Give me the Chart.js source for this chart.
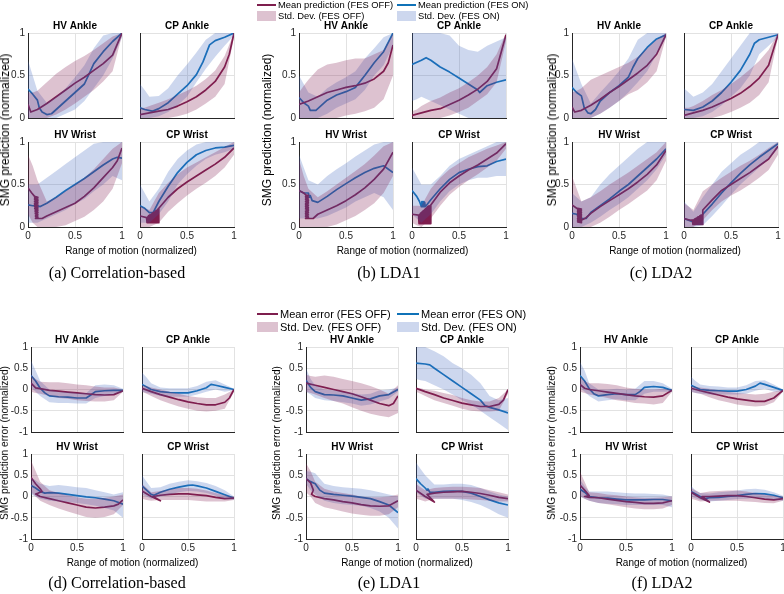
<!DOCTYPE html>
<html>
<head>
<meta charset="utf-8">
<script src="https://cdn.jsdelivr.net/npm/chart.js@4.4.1/dist/chart.umd.min.js"></script>
<style>
  body { margin: 0; background: #fff; width: 784px; height: 594px; position: relative; overflow: hidden;
         font-family: "Liberation Sans", Arial, sans-serif; }
  canvas { position: absolute; }
  .t { position: absolute; white-space: nowrap; color: #000; line-height: 1; }
</style>
</head>
<body>
<script>
// ---- data: x grid for the std bands, tick labels ----
const X = [0, 0.05, 0.1, 0.2, 0.3, 0.4, 0.5, 0.6, 0.7, 0.8, 0.9, 1];
const xTicks = [0, 0.5, 1];
const xTickLabels = ["0", "0.5", "1"];
const predTicks = [0, 0.5, 1];
const predTickLabels = ["0", "0.5", "1"];
const errTicks = [-1, -0.5, 0, 0.5, 1];
const errTickLabels = ["-1", "-0.5", "0", "0.5", "1"];
const panelTitles = ["HV Ankle", "CP Ankle", "HV Wrist", "CP Wrist"];
const captions = ["(a) Correlation-based", "(b) LDA1", "(c) LDA2", "(d) Correlation-based", "(e) LDA1", "(f) LDA2"];

// mean curves are [x, y] points (the wrist curves run back and forth near the start),
// bands are [lo, hi] on X

// (a) Correlation-based, prediction
const a_hva_off = [[0,0.16],[0.03,0.07],[0.1,0.1],[0.2,0.17],[0.3,0.25],[0.4,0.33],[0.5,0.41],[0.6,0.48],[0.7,0.56],[0.8,0.64],[0.9,0.74],[1,1.0]];
const a_hva_on = [[0,0.34],[0.05,0.28],[0.1,0.21],[0.12,0.12],[0.15,0.07],[0.2,0.04],[0.25,0.05],[0.3,0.1],[0.4,0.2],[0.5,0.3],[0.6,0.4],[0.65,0.52],[0.7,0.64],[0.8,0.78],[0.9,0.9],[1,1.0]];
const a_hva_offB = [[0,0.3],[0,0.3],[0,0.32],[0,0.42],[0.04,0.52],[0.1,0.6],[0.17,0.67],[0.25,0.73],[0.33,0.8],[0.43,0.88],[0.55,0.96],[0.97,1]];
const a_hva_onB = [[0,0.68],[0,0.5],[0,0.32],[0,0.18],[0,0.25],[0.05,0.35],[0.1,0.48],[0.2,0.62],[0.35,0.82],[0.5,0.97],[0.7,1],[0.95,1]];

const a_cpa_off = [[0,0.04],[0.1,0.06],[0.2,0.08],[0.3,0.1],[0.4,0.14],[0.5,0.19],[0.6,0.25],[0.7,0.33],[0.8,0.43],[0.9,0.6],[0.95,0.75],[1,1.0]];
const a_cpa_on = [[0,0.12],[0.05,0.1],[0.13,0.08],[0.2,0.11],[0.3,0.18],[0.4,0.28],[0.5,0.38],[0.6,0.51],[0.67,0.66],[0.74,0.86],[0.8,0.91],[0.9,0.95],[1,1.0]];
const a_cpa_offB = [[0,0.12],[0,0.12],[0,0.14],[0,0.18],[0,0.22],[0.02,0.27],[0.05,0.32],[0.1,0.38],[0.17,0.46],[0.25,0.56],[0.4,0.73],[0.95,1]];
const a_cpa_onB = [[0,0.4],[0,0.33],[0,0.25],[0.02,0.26],[0.07,0.35],[0.15,0.5],[0.25,0.63],[0.42,0.77],[0.58,0.92],[0.72,1],[0.85,1],[0.97,1]];

const a_hvw_off = [[0,0.46],[0.04,0.4],[0.07,0.36],[0.105,0.35],[0.07,0.34],[0.105,0.33],[0.07,0.32],[0.105,0.31],[0.07,0.3],[0.105,0.29],[0.07,0.28],[0.105,0.27],[0.07,0.26],[0.105,0.25],[0.07,0.24],[0.105,0.23],[0.072,0.22],[0.105,0.21],[0.074,0.2],[0.105,0.19],[0.076,0.18],[0.105,0.17],[0.078,0.16],[0.105,0.15],[0.08,0.14],[0.105,0.13],[0.08,0.12],[0.105,0.11],[0.08,0.1],[0.1,0.1],[0.15,0.1],[0.2,0.13],[0.3,0.18],[0.4,0.23],[0.5,0.28],[0.6,0.36],[0.7,0.46],[0.8,0.58],[0.9,0.7],[0.95,0.78],[1,0.93]];
const a_hvw_on = [[0,0.26],[0.05,0.25],[0.1,0.25],[0.13,0.24],[0.2,0.28],[0.3,0.35],[0.4,0.43],[0.5,0.5],[0.6,0.57],[0.7,0.65],[0.8,0.73],[0.9,0.8],[0.95,0.82],[1,0.81]];
const a_hvw_offB = [[0.15,0.85],[0.05,0.72],[0,0.55],[0,0.3],[0,0.35],[0.02,0.42],[0.07,0.5],[0.12,0.58],[0.2,0.68],[0.3,0.8],[0.45,0.92],[0.75,1]];
const a_hvw_onB = [[0.05,0.5],[0.05,0.5],[0.05,0.5],[0.1,0.58],[0.15,0.66],[0.2,0.74],[0.27,0.82],[0.33,0.9],[0.42,0.98],[0.5,1],[0.6,1],[0.55,1]];

const a_cpw_off = [[0,0.13],[0.07,0.11],[0.075,0.05],[0.08,0.12],[0.085,0.05],[0.09,0.13],[0.095,0.05],[0.1,0.14],[0.105,0.05],[0.11,0.14],[0.115,0.05],[0.12,0.15],[0.125,0.05],[0.13,0.16],[0.135,0.05],[0.14,0.17],[0.145,0.05],[0.15,0.17],[0.155,0.05],[0.16,0.18],[0.165,0.05],[0.17,0.19],[0.175,0.05],[0.18,0.2],[0.185,0.05],[0.19,0.21],[0.195,0.05],[0.2,0.22],[0.3,0.35],[0.4,0.45],[0.5,0.53],[0.6,0.6],[0.7,0.67],[0.8,0.74],[0.9,0.82],[1,0.93]];
const a_cpw_on = [[0,0.25],[0.05,0.22],[0.1,0.17],[0.14,0.17],[0.2,0.3],[0.3,0.48],[0.4,0.64],[0.5,0.76],[0.6,0.85],[0.7,0.9],[0.8,0.93],[0.9,0.94],[1,0.96]];
const a_cpw_offB = [[0,0.25],[0,0.22],[0,0.2],[0.05,0.4],[0.18,0.52],[0.28,0.62],[0.37,0.7],[0.45,0.76],[0.52,0.82],[0.6,0.88],[0.7,0.94],[0.85,1]];
const a_cpw_onB = [[0.05,0.5],[0.05,0.4],[0.05,0.3],[0.15,0.45],[0.3,0.65],[0.5,0.8],[0.62,0.9],[0.72,0.97],[0.8,1],[0.85,1],[0.88,1],[0.92,1]];

// (b) LDA1, prediction
const b_hva_off = [[0,0.16],[0.1,0.2],[0.2,0.25],[0.3,0.3],[0.4,0.33],[0.5,0.36],[0.6,0.38],[0.7,0.41],[0.8,0.46],[0.9,0.55],[0.95,0.65],[1,0.86]];
const b_hva_on = [[0,0.24],[0.05,0.18],[0.1,0.14],[0.12,0.09],[0.18,0.09],[0.25,0.16],[0.3,0.21],[0.4,0.27],[0.5,0.31],[0.6,0.36],[0.7,0.5],[0.8,0.65],[0.9,0.78],[1,1.0]];
const b_hva_offB = [[0,0.3],[0,0.38],[0,0.45],[0,0.57],[0,0.63],[0,0.65],[0.03,0.68],[0.05,0.7],[0.08,0.7],[0.12,0.75],[0.22,0.8],[0.5,1]];
const b_hva_onB = [[0,0.5],[0,0.4],[0,0.3],[0,0.25],[0.05,0.35],[0.12,0.42],[0.17,0.48],[0.22,0.55],[0.33,0.7],[0.5,0.82],[0.62,0.95],[0.85,1]];

const b_cpa_off = [[0,0.03],[0.1,0.06],[0.2,0.09],[0.3,0.11],[0.4,0.16],[0.5,0.21],[0.6,0.27],[0.7,0.34],[0.8,0.43],[0.9,0.58],[1,0.98]];
const b_cpa_on = [[0,0.63],[0.1,0.68],[0.15,0.71],[0.2,0.68],[0.3,0.6],[0.4,0.54],[0.5,0.47],[0.6,0.4],[0.7,0.33],[0.72,0.3],[0.8,0.38],[0.9,0.42],[1,0.45]];
const b_cpa_offB = [[0,0.08],[0,0.1],[0,0.14],[0,0.2],[0,0.24],[0.03,0.3],[0.07,0.35],[0.12,0.42],[0.2,0.5],[0.28,0.6],[0.42,0.75],[0.9,1]];
const b_cpa_onB = [[0.2,1],[0.22,1],[0.25,1],[0.2,1],[0.15,1],[0.1,0.97],[0.05,0.85],[0,0.8],[0,0.78],[0,0.85],[0,0.9],[0,0.95]];

const b_hvw_off = [[0,0.43],[0.05,0.4],[0.07,0.38],[0.1,0.37],[0.07,0.36],[0.1,0.35],[0.07,0.34],[0.1,0.33],[0.07,0.32],[0.1,0.31],[0.07,0.3],[0.1,0.29],[0.07,0.28],[0.1,0.27],[0.07,0.26],[0.1,0.25],[0.07,0.24],[0.1,0.23],[0.07,0.22],[0.1,0.21],[0.07,0.2],[0.1,0.19],[0.07,0.18],[0.1,0.17],[0.07,0.16],[0.1,0.15],[0.07,0.14],[0.1,0.13],[0.07,0.12],[0.1,0.11],[0.07,0.1],[0.1,0.1],[0.15,0.1],[0.2,0.15],[0.3,0.2],[0.4,0.25],[0.5,0.31],[0.6,0.38],[0.7,0.46],[0.8,0.56],[0.9,0.68],[1,0.88]];
const b_hvw_on = [[0,0.43],[0.05,0.4],[0.1,0.4],[0.11,0.35],[0.12,0.37],[0.14,0.31],[0.2,0.29],[0.3,0.36],[0.4,0.44],[0.5,0.51],[0.6,0.58],[0.7,0.64],[0.8,0.69],[0.9,0.72],[1,0.64]];
const b_hvw_offB = [[0,0.8],[0,0.6],[0,0.45],[0,0.35],[0,0.42],[0.03,0.5],[0.08,0.58],[0.13,0.66],[0.2,0.74],[0.28,0.84],[0.4,0.95],[0.6,1]];
const b_hvw_onB = [[0.1,0.85],[0.1,0.7],[0.1,0.55],[0.1,0.5],[0.13,0.6],[0.18,0.68],[0.23,0.75],[0.3,0.83],[0.35,0.9],[0.4,0.97],[0.35,1],[0.2,1]];

const b_cpw_off = [[0,0.15],[0.07,0.14],[0.075,0.04],[0.08,0.15],[0.085,0.04],[0.09,0.16],[0.095,0.04],[0.1,0.17],[0.105,0.04],[0.11,0.18],[0.115,0.04],[0.12,0.19],[0.125,0.04],[0.13,0.2],[0.135,0.04],[0.14,0.21],[0.145,0.04],[0.15,0.22],[0.155,0.04],[0.16,0.23],[0.165,0.04],[0.17,0.24],[0.175,0.04],[0.18,0.25],[0.185,0.04],[0.19,0.25],[0.195,0.04],[0.2,0.26],[0.3,0.41],[0.4,0.52],[0.5,0.6],[0.6,0.67],[0.7,0.73],[0.8,0.8],[0.9,0.87],[1,0.98]];
const b_cpw_on = [[0,0.43],[0.05,0.36],[0.08,0.3],[0.1,0.24],[0.105,0.3],[0.11,0.24],[0.115,0.3],[0.12,0.24],[0.125,0.3],[0.13,0.24],[0.135,0.29],[0.14,0.24],[0.15,0.25],[0.2,0.32],[0.3,0.45],[0.4,0.56],[0.5,0.64],[0.6,0.68],[0.7,0.71],[0.8,0.72],[0.9,0.77],[1,0.8]];
const b_cpw_offB = [[0.05,0.25],[0.02,0.25],[0,0.25],[0.1,0.45],[0.25,0.58],[0.38,0.68],[0.47,0.75],[0.55,0.82],[0.62,0.87],[0.7,0.92],[0.78,0.96],[0.92,1]];
const b_cpw_onB = [[0.15,0.7],[0.1,0.6],[0.05,0.5],[0.15,0.5],[0.3,0.6],[0.42,0.72],[0.5,0.8],[0.55,0.85],[0.58,0.9],[0.58,0.95],[0.6,1],[0.6,1]];

// (c) LDA2, prediction
const c_hva_off = [[0,0.13],[0.03,0.07],[0.1,0.09],[0.2,0.15],[0.3,0.22],[0.4,0.3],[0.5,0.37],[0.6,0.45],[0.7,0.53],[0.8,0.62],[0.9,0.75],[1,0.98]];
const c_hva_on = [[0,0.36],[0.05,0.3],[0.1,0.26],[0.13,0.12],[0.17,0.06],[0.2,0.05],[0.25,0.1],[0.3,0.2],[0.4,0.3],[0.5,0.38],[0.6,0.48],[0.65,0.6],[0.7,0.7],[0.8,0.83],[0.9,0.93],[1,0.98]];
const c_hva_offB = [[0,0.3],[0,0.32],[0,0.35],[0,0.45],[0.05,0.5],[0.12,0.55],[0.2,0.6],[0.28,0.65],[0.33,0.72],[0.42,0.82],[0.55,0.92],[0.95,1]];
const c_hva_onB = [[0,0.7],[0,0.55],[0,0.4],[0,0.17],[0.05,0.3],[0.12,0.42],[0.2,0.55],[0.3,0.7],[0.42,0.92],[0.55,1],[0.75,1],[0.95,1]];

const c_cpa_off = [[0,0.03],[0.1,0.06],[0.2,0.09],[0.3,0.13],[0.4,0.18],[0.5,0.23],[0.6,0.29],[0.7,0.37],[0.8,0.47],[0.9,0.62],[1,0.98]];
const c_cpa_on = [[0,0.1],[0.1,0.09],[0.2,0.13],[0.3,0.2],[0.4,0.3],[0.5,0.42],[0.6,0.56],[0.7,0.75],[0.75,0.88],[0.8,0.92],[0.9,0.95],[1,0.98]];
const c_cpa_offB = [[0,0.12],[0,0.12],[0,0.14],[0,0.2],[0,0.27],[0.03,0.33],[0.07,0.4],[0.12,0.48],[0.18,0.57],[0.27,0.67],[0.42,0.8],[0.95,1]];
const c_cpa_onB = [[0,0.35],[0,0.3],[0,0.25],[0.02,0.3],[0.07,0.4],[0.15,0.55],[0.25,0.7],[0.35,0.85],[0.5,1],[0.75,1],[0.85,1],[0.95,1]];

const c_hvw_off = [[0,0.26],[0.05,0.22],[0.06,0.22],[0.1,0.21],[0.06,0.2],[0.1,0.19],[0.06,0.18],[0.1,0.17],[0.06,0.16],[0.1,0.15],[0.06,0.14],[0.1,0.13],[0.06,0.12],[0.1,0.11],[0.06,0.1],[0.1,0.09],[0.06,0.08],[0.1,0.07],[0.06,0.06],[0.1,0.05],[0.1,0.08],[0.15,0.11],[0.2,0.16],[0.3,0.24],[0.4,0.31],[0.5,0.38],[0.6,0.45],[0.7,0.53],[0.8,0.62],[0.9,0.73],[1,0.9]];
const c_hvw_on = [[0,0.16],[0.05,0.15],[0.1,0.1],[0.15,0.1],[0.2,0.17],[0.3,0.25],[0.4,0.33],[0.5,0.42],[0.6,0.5],[0.7,0.6],[0.8,0.7],[0.9,0.8],[1,0.92]];
const c_hvw_offB = [[0,0.6],[0,0.45],[0,0.3],[0,0.35],[0.05,0.42],[0.12,0.5],[0.2,0.57],[0.27,0.64],[0.35,0.72],[0.43,0.8],[0.55,0.88],[0.78,1]];
const c_hvw_onB = [[0,0.4],[0,0.35],[0,0.3],[0.05,0.35],[0.12,0.5],[0.2,0.62],[0.27,0.72],[0.35,0.82],[0.45,0.92],[0.55,1],[0.68,1],[0.85,1]];

const c_cpw_off = [[0,0.1],[0.07,0.08],[0.09,0.08],[0.095,0.03],[0.1,0.08],[0.105,0.03],[0.11,0.09],[0.115,0.03],[0.12,0.1],[0.125,0.03],[0.13,0.1],[0.135,0.03],[0.14,0.11],[0.145,0.03],[0.15,0.12],[0.155,0.03],[0.16,0.12],[0.165,0.03],[0.17,0.13],[0.175,0.03],[0.18,0.14],[0.185,0.03],[0.19,0.14],[0.195,0.03],[0.2,0.15],[0.2,0.2],[0.3,0.32],[0.4,0.43],[0.5,0.5],[0.6,0.57],[0.7,0.64],[0.8,0.72],[0.9,0.8],[1,0.95]];
const c_cpw_on = [[0,0.1],[0.1,0.06],[0.15,0.06],[0.2,0.15],[0.3,0.27],[0.4,0.4],[0.5,0.52],[0.6,0.63],[0.7,0.73],[0.8,0.82],[0.9,0.9],[1,0.98]];
const c_cpw_offB = [[0,0.28],[0,0.24],[0,0.2],[0.08,0.42],[0.2,0.5],[0.3,0.58],[0.37,0.65],[0.43,0.72],[0.5,0.78],[0.58,0.85],[0.67,0.93],[0.85,1]];
const c_cpw_onB = [[0,0.3],[0,0.24],[0,0.18],[0.02,0.35],[0.13,0.5],[0.25,0.65],[0.38,0.75],[0.5,0.85],[0.6,0.92],[0.7,1],[0.8,1],[0.92,1]];

// (d) Correlation-based, error
const d_hva_off = [[0,0.15],[0.05,0.04],[0.1,0.02],[0.2,-0.02],[0.3,-0.04],[0.4,-0.06],[0.5,-0.08],[0.6,-0.1],[0.7,-0.12],[0.8,-0.13],[0.9,-0.12],[1,-0.03]];
const d_hva_on = [[0,0.33],[0.05,0.2],[0.1,0.03],[0.15,-0.08],[0.2,-0.15],[0.3,-0.17],[0.4,-0.18],[0.5,-0.2],[0.6,-0.2],[0.65,-0.13],[0.7,-0.05],[0.8,-0.03],[0.9,-0.02],[1,-0.02]];
const d_hva_offB = [[-0.05,0.35],[-0.08,0.25],[-0.1,0.18],[-0.15,0.17],[-0.2,0.17],[-0.22,0.15],[-0.25,0.12],[-0.27,0.1],[-0.28,0.07],[-0.28,0.05],[-0.25,0.05],[-0.05,0]];
const d_hva_onB = [[0.05,0.68],[-0.05,0.45],[-0.15,0.2],[-0.3,0],[-0.32,-0.05],[-0.32,-0.06],[-0.33,-0.08],[-0.33,-0.08],[-0.2,0.1],[-0.15,0.12],[-0.12,0.1],[-0.05,0.02]];

const d_cpa_off = [[0,0.03],[0.1,-0.05],[0.2,-0.12],[0.3,-0.18],[0.4,-0.24],[0.5,-0.29],[0.6,-0.33],[0.7,-0.36],[0.8,-0.36],[0.9,-0.3],[0.95,-0.2],[1,0]];
const d_cpa_on = [[0,0.12],[0.1,0],[0.2,-0.05],[0.3,-0.07],[0.4,-0.08],[0.5,-0.08],[0.6,-0.03],[0.7,0.04],[0.75,0.12],[0.8,0.1],[0.9,0.05],[1,0]];
const d_cpa_offB = [[-0.05,0.1],[-0.1,0.08],[-0.15,0.05],[-0.25,0],[-0.33,-0.05],[-0.4,-0.1],[-0.45,-0.15],[-0.5,-0.18],[-0.52,-0.2],[-0.5,-0.2],[-0.45,-0.12],[-0.05,0]];
const d_cpa_onB = [[-0.05,0.4],[-0.08,0.28],[-0.1,0.15],[-0.15,0.05],[-0.17,0.03],[-0.17,0.03],[-0.17,0.03],[-0.12,0.08],[-0.05,0.18],[0,0.22],[-0.05,0.12],[-0.02,0.02]];

const d_hvw_off = [[0,0.45],[0.05,0.3],[0.1,0.18],[0.12,0.12],[0.08,0.08],[0.05,0.06],[0.1,0],[0.2,-0.05],[0.3,-0.1],[0.4,-0.15],[0.5,-0.2],[0.6,-0.25],[0.7,-0.27],[0.8,-0.25],[0.9,-0.22],[0.95,-0.18],[1,-0.08]];
const d_hvw_on = [[0,0.26],[0.05,0.2],[0.1,0.12],[0.15,0.08],[0.2,0.09],[0.3,0.08],[0.4,0.05],[0.5,0.02],[0.6,-0.01],[0.7,-0.03],[0.8,-0.06],[0.9,-0.1],[1,-0.18]];
const d_hvw_offB = [[0.1,0.85],[0,0.6],[-0.1,0.35],[-0.2,0.15],[-0.28,0.08],[-0.35,0.03],[-0.42,-0.02],[-0.48,-0.05],[-0.5,-0.05],[-0.48,-0.03],[-0.42,0],[-0.2,0.05]];
const d_hvw_onB = [[0.05,0.45],[0,0.38],[-0.05,0.3],[-0.1,0.25],[-0.12,0.27],[-0.13,0.25],[-0.15,0.22],[-0.18,0.2],[-0.22,0.15],[-0.27,0.1],[-0.33,0.05],[-0.5,0.1]];

const d_cpw_off = [[0,0.13],[0.1,0],[0.2,-0.1],[0.12,0],[0.2,0.03],[0.3,0.05],[0.4,0.06],[0.5,0.06],[0.6,0.04],[0.7,0.02],[0.8,-0.02],[0.9,-0.05],[1,-0.04]];
const d_cpw_on = [[0,0.25],[0.05,0.15],[0.1,0.05],[0.13,0.03],[0.2,0.1],[0.3,0.17],[0.4,0.22],[0.5,0.26],[0.55,0.27],[0.6,0.25],[0.7,0.2],[0.8,0.12],[0.9,0.04],[1,-0.04]];
const d_cpw_offB = [[-0.05,0.3],[-0.08,0.2],[-0.1,0.1],[-0.08,0.13],[-0.08,0.17],[-0.08,0.2],[-0.08,0.2],[-0.1,0.18],[-0.12,0.14],[-0.12,0.08],[-0.12,0.03],[-0.08,0]];
const d_cpw_onB = [[0.05,0.5],[0,0.35],[-0.05,0.2],[0,0.22],[0.05,0.3],[0.1,0.35],[0.13,0.38],[0.12,0.36],[0.08,0.32],[0.02,0.25],[-0.05,0.15],[-0.08,0]];

// (e) LDA1, error
const e_hva_off = [[0,0.15],[0.1,0.1],[0.2,0.05],[0.3,0],[0.4,-0.05],[0.5,-0.1],[0.6,-0.17],[0.7,-0.25],[0.8,-0.33],[0.9,-0.38],[0.95,-0.33],[1,-0.15]];
const e_hva_on = [[0,0.22],[0.05,0.05],[0.1,-0.05],[0.2,-0.12],[0.3,-0.13],[0.4,-0.15],[0.5,-0.2],[0.6,-0.25],[0.7,-0.22],[0.8,-0.15],[0.9,-0.12],[1,0]];
const e_hva_offB = [[-0.05,0.35],[-0.08,0.32],[-0.12,0.3],[-0.2,0.33],[-0.27,0.3],[-0.33,0.25],[-0.42,0.2],[-0.5,0.15],[-0.57,0.08],[-0.62,0],[-0.65,-0.1],[-0.55,0.1]];
const e_hva_onB = [[-0.05,0.5],[-0.12,0.25],[-0.2,0.1],[-0.25,0],[-0.27,-0.02],[-0.3,-0.05],[-0.33,-0.08],[-0.38,-0.12],[-0.35,-0.1],[-0.28,-0.02],[-0.22,0],[-0.05,0.05]];

const e_cpa_off = [[0,0.03],[0.1,-0.05],[0.2,-0.12],[0.3,-0.2],[0.4,-0.26],[0.5,-0.32],[0.6,-0.36],[0.7,-0.4],[0.8,-0.4],[0.9,-0.35],[0.95,-0.25],[1,0]];
const e_cpa_on = [[0,0.62],[0.1,0.6],[0.15,0.58],[0.2,0.5],[0.3,0.35],[0.4,0.2],[0.5,0.05],[0.6,-0.1],[0.7,-0.25],[0.75,-0.38],[0.8,-0.42],[0.9,-0.48],[1,-0.55]];
const e_cpa_offB = [[-0.05,0.05],[-0.1,0.03],[-0.15,0],[-0.25,-0.03],[-0.32,-0.08],[-0.38,-0.13],[-0.45,-0.2],[-0.5,-0.25],[-0.52,-0.28],[-0.52,-0.28],[-0.5,-0.2],[-0.1,0]];
const e_cpa_onB = [[0.25,1],[0.22,1],[0.2,1],[0.1,0.9],[0,0.78],[-0.12,0.62],[-0.25,0.5],[-0.35,0.35],[-0.5,0.15],[-0.65,-0.15],[-0.8,-0.25],[-0.95,-0.2]];

const e_hvw_off = [[0,0.42],[0.05,0.32],[0.08,0.15],[0.06,0.05],[0.1,0],[0.2,-0.05],[0.3,-0.08],[0.4,-0.12],[0.5,-0.15],[0.6,-0.19],[0.7,-0.22],[0.8,-0.23],[0.9,-0.22],[1,-0.1]];
const e_hvw_on = [[0,0.42],[0.05,0.35],[0.1,0.3],[0.15,0.15],[0.2,0.08],[0.3,0.05],[0.4,0.03],[0.5,0.01],[0.6,-0.02],[0.7,-0.05],[0.8,-0.12],[0.9,-0.2],[1,-0.38]];
const e_hvw_offB = [[0.1,0.78],[0,0.6],[-0.15,0.35],[-0.25,0.18],[-0.3,0.12],[-0.35,0.08],[-0.4,0.05],[-0.43,0],[-0.45,-0.02],[-0.45,-0.02],[-0.42,0],[-0.25,0.05]];
const e_hvw_onB = [[0.3,0.6],[0.15,0.58],[0.05,0.55],[-0.1,0.3],[-0.15,0.25],[-0.18,0.22],[-0.2,0.2],[-0.22,0.18],[-0.27,0.15],[-0.35,0.1],[-0.5,0.05],[-0.75,0]];

const e_cpw_off = [[0,0.15],[0.1,0],[0.2,-0.13],[0.12,0.05],[0.2,0.08],[0.3,0.1],[0.4,0.11],[0.5,0.12],[0.6,0.1],[0.7,0.07],[0.8,0.03],[0.9,-0.02],[1,-0.05]];
const e_cpw_on = [[0,0.42],[0.05,0.3],[0.1,0.2],[0.12,0.15],[0.13,0.18],[0.15,0.1],[0.2,0.1],[0.3,0.12],[0.4,0.13],[0.5,0.12],[0.6,0.08],[0.7,0],[0.8,-0.08],[0.9,-0.15],[1,-0.2]];
const e_cpw_offB = [[-0.05,0.3],[-0.08,0.22],[-0.12,0.15],[-0.05,0.2],[-0.05,0.22],[-0.05,0.23],[-0.05,0.23],[-0.07,0.22],[-0.08,0.2],[-0.1,0.15],[-0.12,0.1],[-0.12,0.05]];
const e_cpw_onB = [[0.1,0.8],[0.02,0.65],[-0.05,0.5],[-0.05,0.28],[-0.05,0.28],[-0.05,0.3],[-0.08,0.3],[-0.13,0.27],[-0.2,0.2],[-0.3,0.12],[-0.42,0.05],[-0.5,0]];

// (f) LDA2, error
const f_hva_off = [[0,0.12],[0.05,0.03],[0.1,0],[0.2,-0.03],[0.3,-0.06],[0.4,-0.09],[0.5,-0.12],[0.6,-0.15],[0.7,-0.17],[0.8,-0.18],[0.9,-0.15],[1,-0.02]];
const f_hva_on = [[0,0.33],[0.05,0.2],[0.1,0.02],[0.15,-0.1],[0.2,-0.15],[0.3,-0.12],[0.4,-0.1],[0.5,-0.12],[0.6,-0.12],[0.65,-0.05],[0.7,0.05],[0.8,0.07],[0.9,0.05],[1,-0.02]];
const f_hva_offB = [[-0.05,0.3],[-0.08,0.2],[-0.12,0.15],[-0.15,0.15],[-0.2,0.13],[-0.25,0.1],[-0.28,0.05],[-0.32,0.02],[-0.33,0],[-0.35,0],[-0.32,0.02],[-0.05,0]];
const f_hva_onB = [[0.05,0.65],[-0.05,0.45],[-0.15,0.15],[-0.28,0],[-0.25,0],[-0.23,0.02],[-0.25,0],[-0.25,0.02],[-0.1,0.2],[-0.05,0.2],[-0.05,0.15],[-0.05,0.02]];

const f_cpa_off = [[0,0.03],[0.1,-0.03],[0.2,-0.08],[0.3,-0.13],[0.4,-0.18],[0.5,-0.22],[0.6,-0.25],[0.7,-0.28],[0.8,-0.28],[0.9,-0.2],[1,-0.02]];
const f_cpa_on = [[0,0.1],[0.1,0],[0.2,-0.02],[0.3,-0.03],[0.4,-0.04],[0.5,-0.04],[0.6,0],[0.7,0.08],[0.75,0.15],[0.8,0.12],[0.9,0.05],[1,-0.02]];
const f_cpa_offB = [[-0.05,0.08],[-0.08,0.06],[-0.1,0.05],[-0.18,0.02],[-0.25,-0.02],[-0.3,-0.05],[-0.35,-0.08],[-0.38,-0.1],[-0.4,-0.12],[-0.38,-0.1],[-0.3,-0.05],[-0.05,0]];
const f_cpa_onB = [[-0.05,0.3],[-0.08,0.2],[-0.1,0.12],[-0.12,0.08],[-0.12,0.07],[-0.12,0.05],[-0.12,0.05],[-0.1,0.1],[-0.03,0.2],[0.02,0.22],[-0.05,0.12],[-0.04,0]];

const f_hvw_off = [[0,0.27],[0.05,0.15],[0.1,0.02],[0.05,0],[0.1,-0.02],[0.2,-0.03],[0.3,-0.06],[0.4,-0.09],[0.5,-0.12],[0.6,-0.14],[0.7,-0.16],[0.8,-0.16],[0.9,-0.15],[1,-0.1]];
const f_hvw_on = [[0,0.17],[0.05,0.1],[0.1,0],[0.2,-0.03],[0.3,-0.04],[0.4,-0.06],[0.5,-0.08],[0.6,-0.08],[0.7,-0.08],[0.8,-0.07],[0.9,-0.07],[1,-0.1]];
const f_hvw_offB = [[0,0.58],[-0.05,0.35],[-0.1,0.1],[-0.15,0.08],[-0.18,0.05],[-0.22,0.03],[-0.25,0],[-0.28,-0.02],[-0.3,-0.03],[-0.3,-0.03],[-0.28,-0.02],[-0.2,0]];
const f_hvw_onB = [[0,0.4],[-0.05,0.25],[-0.1,0.12],[-0.15,0.12],[-0.17,0.12],[-0.18,0.1],[-0.2,0.08],[-0.2,0.07],[-0.2,0.07],[-0.2,0.06],[-0.2,0.05],[-0.25,0]];

const f_cpw_off = [[0,0.1],[0.1,-0.03],[0.2,-0.13],[0.12,0],[0.2,0],[0.3,0.01],[0.4,0.02],[0.5,0.02],[0.6,0],[0.7,-0.03],[0.8,-0.06],[0.9,-0.08],[1,-0.05]];
const f_cpw_on = [[0,0.12],[0.1,0],[0.15,-0.05],[0.2,-0.03],[0.3,-0.02],[0.4,0],[0.5,0.02],[0.6,0.05],[0.7,0.07],[0.8,0.06],[0.9,0.03],[1,-0.03]];
const f_cpw_offB = [[-0.05,0.2],[-0.08,0.14],[-0.12,0.08],[-0.1,0.12],[-0.1,0.13],[-0.1,0.14],[-0.1,0.14],[-0.12,0.12],[-0.13,0.08],[-0.15,0.05],[-0.16,0.02],[-0.1,0]];
const f_cpw_onB = [[0,0.25],[-0.04,0.15],[-0.08,0.08],[-0.12,0.07],[-0.1,0.1],[-0.08,0.12],[-0.06,0.14],[-0.05,0.17],[-0.03,0.18],[-0.05,0.16],[-0.08,0.1],[-0.1,0.02]];

// ---- styles ----
const OFF_LINE = "#7e1e4e";
const ON_LINE = "#0f72b8";
const OFF_BAND = "rgba(130, 30, 80, 0.27)";
const ON_BAND = "rgba(60, 100, 190, 0.26)";
const AXIS = "#262626";
const GRID = "#e2e2e2";
const FONT = '"Liberation Sans", Arial, sans-serif';
Chart.defaults.font.family = FONT;

// title above each small axes, centred on the plot area
const panelTitle = {
    id: "panelTitle",
    afterDraw(chart, args, opts) {
        const { ctx, chartArea } = chart;
        ctx.save();
        ctx.font = "bold 10px " + FONT;
        ctx.fillStyle = "#000";
        ctx.textAlign = "center";
        ctx.textBaseline = "bottom";
        ctx.fillText(opts.text, (chartArea.left + chartArea.right) / 2, chartArea.top - 2);
        ctx.restore();
    }
};

const toPts = (arr) => arr.map((p) => ({ x: p[0], y: p[1] }));
const bandLo = (band) => band.map((b, i) => ({ x: X[i], y: b[0] }));
const bandHi = (band) => band.map((b, i) => ({ x: X[i], y: b[1] }));

function makePanel(left, top, w, h, title, yMin, yTicks, yLabels, showX, showY, off, on, offB, onB) {
    const L = 32, T = 16, R = 8, B = 18;
    const cv = document.createElement("canvas");
    cv.width = w + L + R;
    cv.height = h + T + B;
    cv.style.left = left - L + "px";
    cv.style.top = top - T + "px";
    document.body.appendChild(cv);

    const hidden = { showLine: true, borderWidth: 0, borderColor: "rgba(0,0,0,0)", pointRadius: 0 };
    const line = (data, color) => ({ data: toPts(data), showLine: true, borderColor: color, borderWidth: 1.7,
        pointRadius: 0, fill: false, borderJoinStyle: "round" });

    new Chart(cv, {
        type: "scatter",
        data: {
            datasets: [
                { ...hidden, data: bandLo(offB), fill: false },
                { ...hidden, data: bandHi(offB), fill: "-1", backgroundColor: OFF_BAND },
                { ...hidden, data: bandLo(onB), fill: false },
                { ...hidden, data: bandHi(onB), fill: "-1", backgroundColor: ON_BAND },
                line(off, OFF_LINE),
                line(on, ON_LINE)
            ]
        },
        options: {
            responsive: false,
            animation: false,
            events: [],
            layout: { padding: { top: T, right: R, left: 0, bottom: 0 } },
            plugins: { legend: { display: false }, tooltip: { enabled: false }, panelTitle: { text: title } },
            scales: {
                x: {
                    type: "linear", min: 0, max: 1,
                    afterBuildTicks: (s) => { s.ticks = xTicks.map((v) => ({ value: v })); },
                    afterFit: (s) => { s.height = B; },
                    ticks: { display: showX, autoSkip: false, maxRotation: 0, padding: 3, color: AXIS,
                        font: { size: 10 }, callback: (v, i) => xTickLabels[i] },
                    grid: { color: GRID, drawTicks: false },
                    border: { color: AXIS, width: 1 }
                },
                y: {
                    type: "linear", min: yMin, max: 1,
                    afterBuildTicks: (s) => { s.ticks = yTicks.map((v) => ({ value: v })); },
                    afterFit: (s) => { s.width = L; },
                    ticks: { display: showY, autoSkip: false, padding: 3, color: AXIS,
                        font: { size: 10 }, callback: (v, i) => yLabels[i] },
                    grid: { color: GRID, drawTicks: false },
                    border: { color: AXIS, width: 1 }
                }
            }
        },
        plugins: [panelTitle]
    });
}

function text(str, cx, cy, css, rotate) {
    const d = document.createElement("div");
    d.className = "t";
    d.textContent = str;
    Object.assign(d.style, css);
    d.style.left = cx + "px";
    d.style.top = cy + "px";
    d.style.transform = "translate(-50%, -50%)" + (rotate ? " rotate(-90deg)" : "");
    document.body.appendChild(d);
}

function legendItem(x, y, w, kind, color, label, size) {
    const m = document.createElement("div");
    m.style.position = "absolute";
    m.style.left = x + "px";
    m.style.width = w + "px";
    m.style.background = color;
    if (kind === "line") { m.style.top = y - 1 + "px"; m.style.height = "2px"; }
    else { m.style.top = y - 5 + "px"; m.style.height = "10px"; }
    document.body.appendChild(m);
    const t = document.createElement("div");
    t.className = "t";
    t.textContent = label;
    t.style.fontSize = size + "px";
    t.style.left = x + w + 2 + "px";
    t.style.top = y - size / 2 + "px";
    document.body.appendChild(t);
}

// ---- layout of the six sub-figures ----
const groups = [
    { data: [[a_hva_off, a_hva_on, a_hva_offB, a_hva_onB], [a_cpa_off, a_cpa_on, a_cpa_offB, a_cpa_onB],
             [a_hvw_off, a_hvw_on, a_hvw_offB, a_hvw_onB], [a_cpw_off, a_cpw_on, a_cpw_offB, a_cpw_onB]],
      cols: [28, 140], w: 94, rows: [33, 142], h: 85, err: false, ylx: 5, cap: [117, 273] },
    { data: [[b_hva_off, b_hva_on, b_hva_offB, b_hva_onB], [b_cpa_off, b_cpa_on, b_cpa_offB, b_cpa_onB],
             [b_hvw_off, b_hvw_on, b_hvw_offB, b_hvw_onB], [b_cpw_off, b_cpw_on, b_cpw_offB, b_cpw_onB]],
      cols: [299, 412], w: 94, rows: [33, 142], h: 85, err: false, ylx: 267, cap: [389, 273] },
    { data: [[c_hva_off, c_hva_on, c_hva_offB, c_hva_onB], [c_cpa_off, c_cpa_on, c_cpa_offB, c_cpa_onB],
             [c_hvw_off, c_hvw_on, c_hvw_offB, c_hvw_onB], [c_cpw_off, c_cpw_on, c_cpw_offB, c_cpw_onB]],
      cols: [572, 684], w: 94, rows: [33, 142], h: 85, err: false, ylx: 552, cap: [661, 273] },
    { data: [[d_hva_off, d_hva_on, d_hva_offB, d_hva_onB], [d_cpa_off, d_cpa_on, d_cpa_offB, d_cpa_onB],
             [d_hvw_off, d_hvw_on, d_hvw_offB, d_hvw_onB], [d_cpw_off, d_cpw_on, d_cpw_offB, d_cpw_onB]],
      cols: [31, 142], w: 92, rows: [347, 454], h: 85, err: true, ylx: 5, cap: [117, 583] },
    { data: [[e_hva_off, e_hva_on, e_hva_offB, e_hva_onB], [e_cpa_off, e_cpa_on, e_cpa_offB, e_cpa_onB],
             [e_hvw_off, e_hvw_on, e_hvw_offB, e_hvw_onB], [e_cpw_off, e_cpw_on, e_cpw_offB, e_cpw_onB]],
      cols: [306, 416], w: 92, rows: [347, 454], h: 85, err: true, ylx: 277, cap: [389, 583] },
    { data: [[f_hva_off, f_hva_on, f_hva_offB, f_hva_onB], [f_cpa_off, f_cpa_on, f_cpa_offB, f_cpa_onB],
             [f_hvw_off, f_hvw_on, f_hvw_offB, f_hvw_onB], [f_cpw_off, f_cpw_on, f_cpw_offB, f_cpw_onB]],
      cols: [580, 691], w: 92, rows: [347, 454], h: 85, err: true, ylx: 552, cap: [662, 583] }
];

groups.forEach((g, gi) => {
    const yMin = g.err ? -1 : 0;
    const yTicks = g.err ? errTicks : predTicks;
    const yLabels = g.err ? errTickLabels : predTickLabels;
    g.data.forEach((d, k) => {
        const r = Math.floor(k / 2), c = k % 2;
        makePanel(g.cols[c], g.rows[r], g.w, g.h, panelTitles[k], yMin, yTicks, yLabels,
            r === 1, c === 0, d[0], d[1], d[2], d[3]);
    });
    const bottom = g.rows[1] + g.h;
    text("Range of motion (normalized)", (g.cols[0] + g.cols[1] + g.w) / 2, bottom + 24, { fontSize: "10px" });
    text(g.err ? "SMG prediction error (normalized)" : "SMG prediction (normalized)",
        g.ylx, (g.rows[0] + bottom) / 2, { fontSize: g.err ? "10.2px" : "12px" }, true);
    text(captions[gi], g.cap[0], g.cap[1], { fontFamily: '"Liberation Serif", "Times New Roman", serif', fontSize: "16px" });
});

// ---- legends ----
legendItem(257, 5, 19, "line", OFF_LINE, "Mean prediction (FES OFF)", 9.4);
legendItem(397, 5, 19, "line", ON_LINE, "Mean prediction (FES ON)", 9.4);
legendItem(257, 16, 19, "patch", OFF_BAND, "Std. Dev. (FES OFF)", 9.4);
legendItem(397, 16, 19, "patch", ON_BAND, "Std. Dev. (FES ON)", 9.4);
legendItem(257, 314, 21, "line", OFF_LINE, "Mean error (FES OFF)", 11);
legendItem(397, 314, 22, "line", ON_LINE, "Mean error (FES ON)", 11);
legendItem(257, 327, 21, "patch", OFF_BAND, "Std. Dev. (FES OFF)", 11);
legendItem(397, 327, 22, "patch", ON_BAND, "Std. Dev. (FES ON)", 11);
</script>
</body>
</html>
